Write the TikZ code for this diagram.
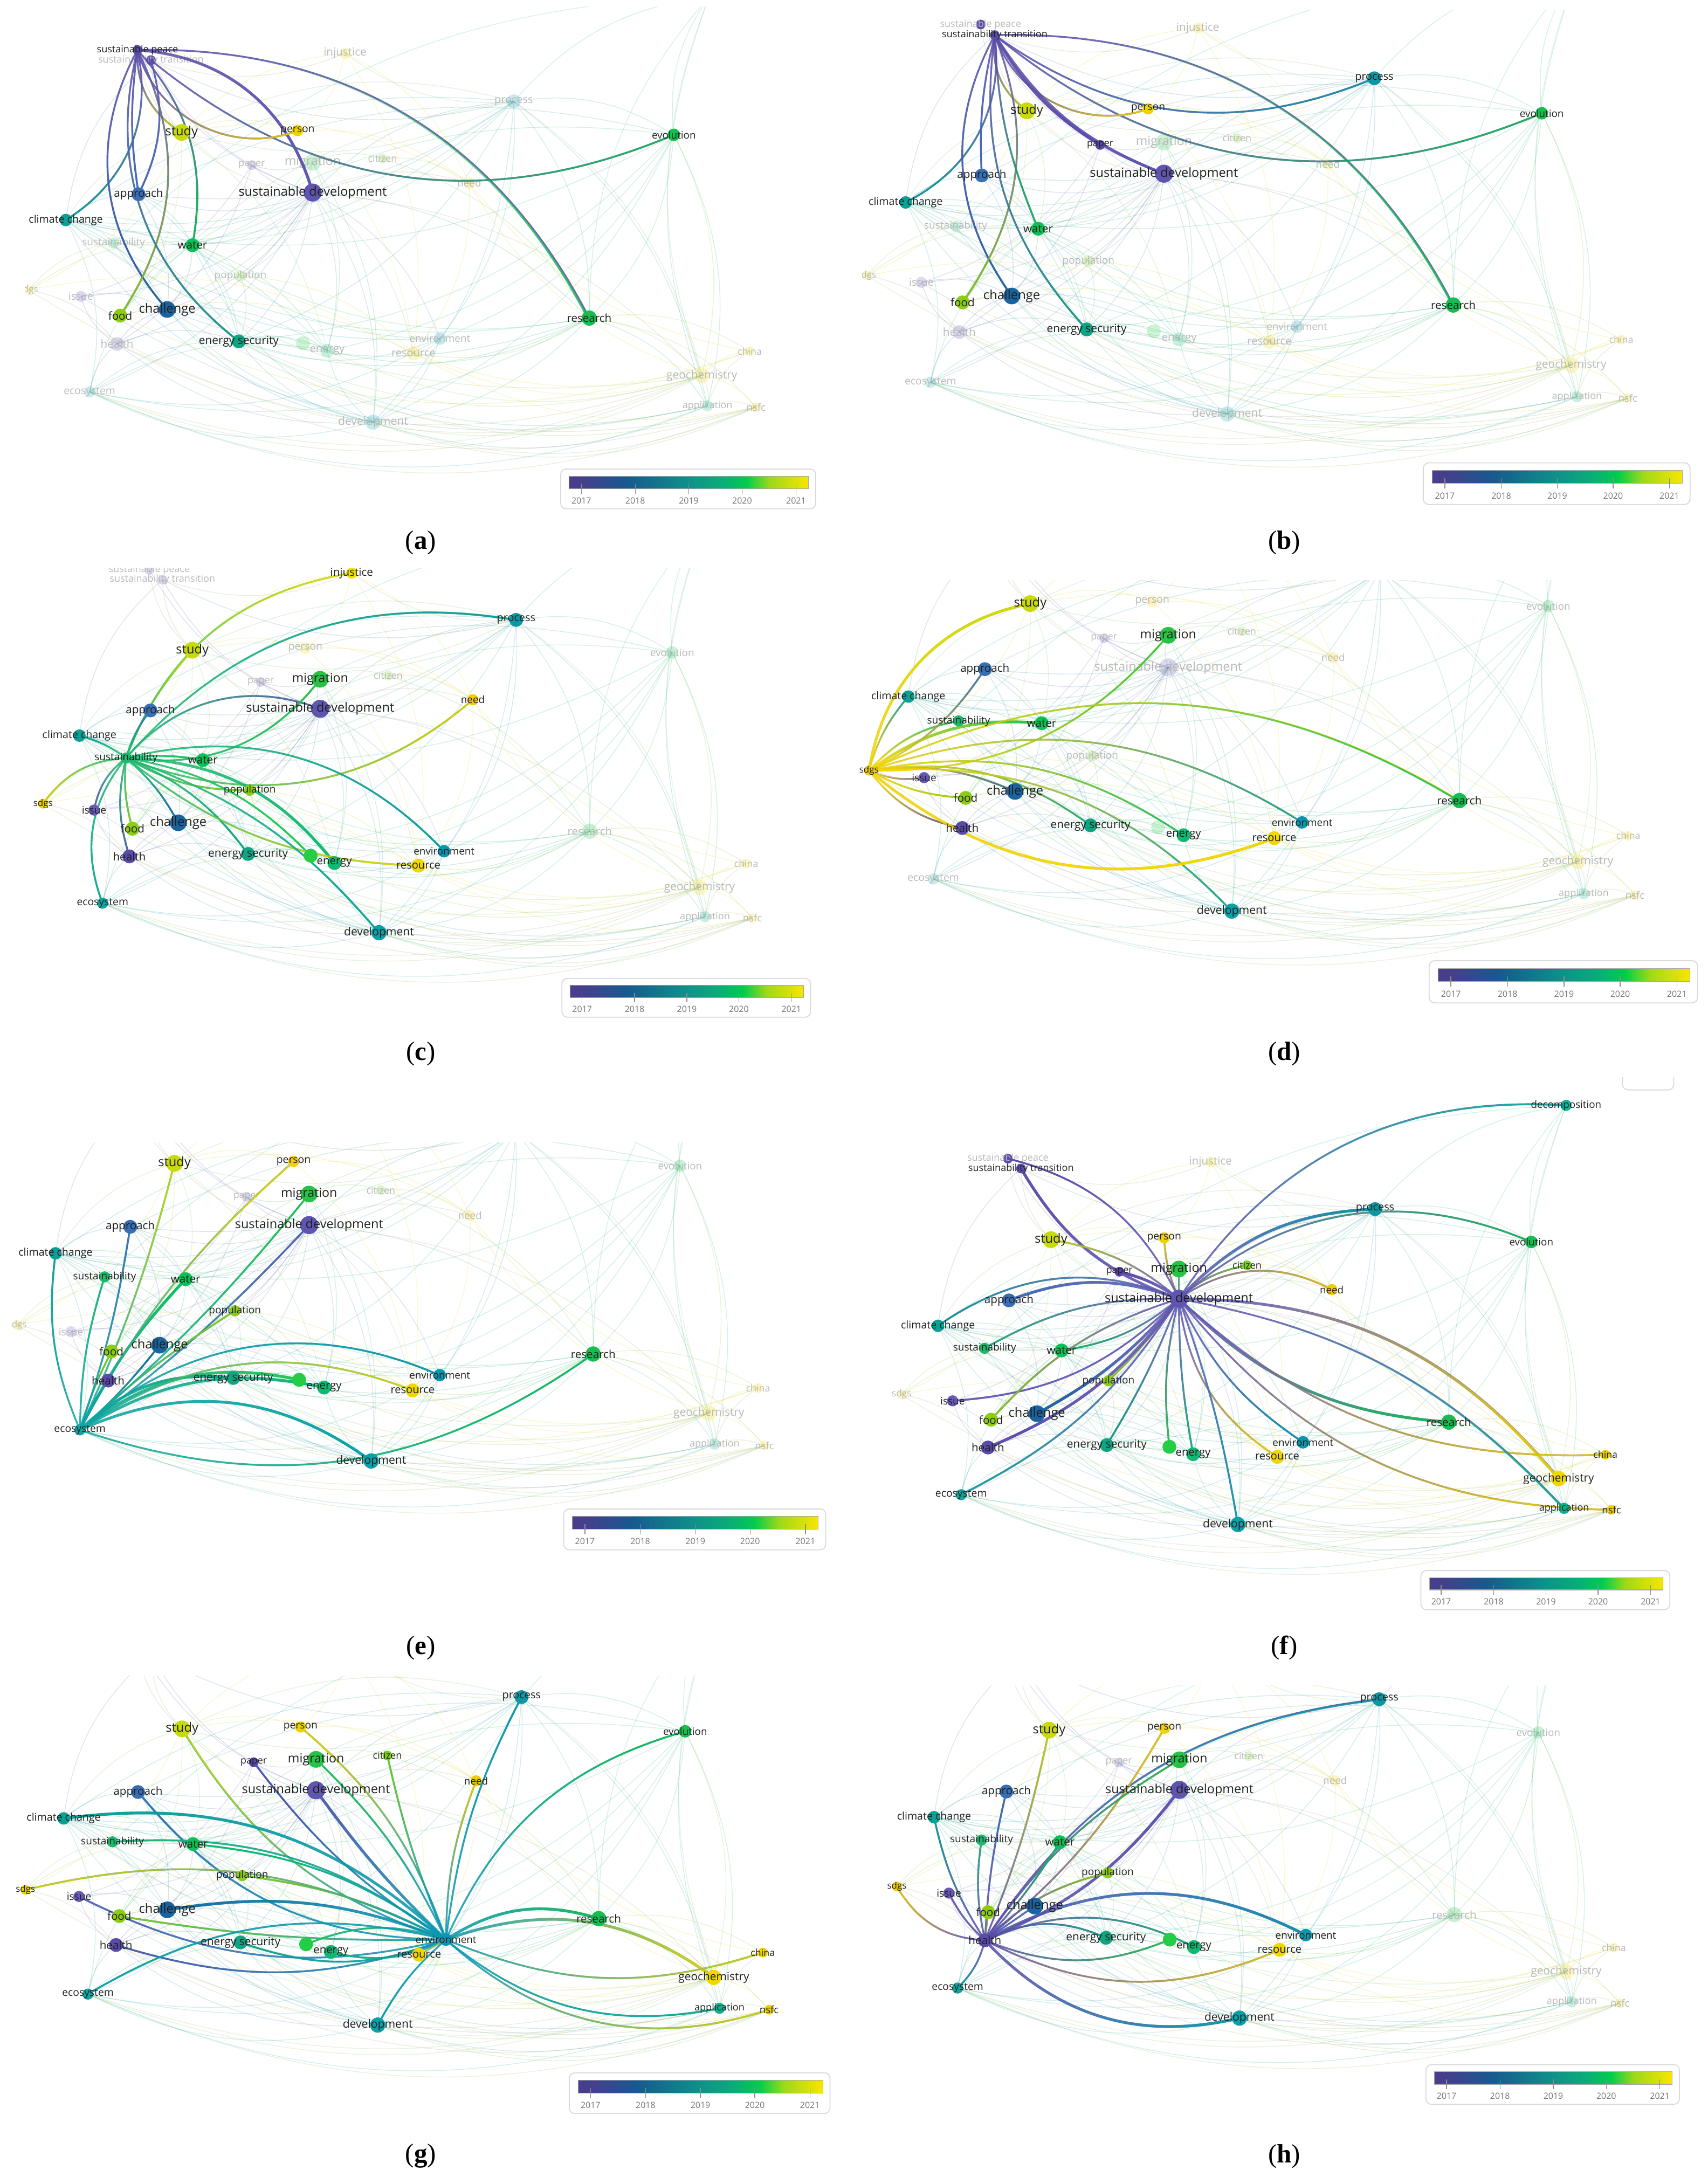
\documentclass[tikz,border=0pt]{standalone}
\usepackage{fontspec}
\usetikzlibrary{fadings}
\setmainfont{Liberation Serif}
\newfontfamily\vos{Open Sans}
\newif\ifmatch
\makeatletter
\newcommand\hlcheck[1]{\edef\hl@tmp{\noexpand\in@{,#1,}{,\hlist,}}\hl@tmp\ifin@\matchtrue\else\matchfalse\fi}
\newcommand\solidcheck[1]{\edef\hl@tmp{\noexpand\in@{,#1,}{,\solidlist,}}\hl@tmp\ifin@\matchtrue\else\matchfalse\fi}
\newcommand\hidecheck[1]{\edef\hl@tmp{\noexpand\in@{,#1,}{,\hidelist,}}\hl@tmp\ifin@\matchtrue\else\matchfalse\fi}
\makeatother

\definecolor{csp}{RGB}{88,76,168}
\definecolor{cst}{RGB}{90,78,170}
\definecolor{cinj}{RGB}{240,224,0}
\definecolor{cproc}{RGB}{14,150,165}
\definecolor{cevo}{RGB}{20,190,80}
\definecolor{cstudy}{RGB}{200,218,10}
\definecolor{cperson}{RGB}{240,210,0}
\definecolor{cpaper}{RGB}{88,70,168}
\definecolor{cmig}{RGB}{40,195,70}
\definecolor{ccit}{RGB}{120,205,30}
\definecolor{cappr}{RGB}{55,110,180}
\definecolor{csd}{RGB}{95,85,175}
\definecolor{cneed}{RGB}{240,205,0}
\definecolor{ccc}{RGB}{10,160,150}
\definecolor{csust}{RGB}{30,185,110}
\definecolor{cwater}{RGB}{10,195,85}
\definecolor{cpop}{RGB}{140,205,20}
\definecolor{csdgs}{RGB}{240,210,0}
\definecolor{cissue}{RGB}{105,90,185}
\definecolor{cfood}{RGB}{140,205,15}
\definecolor{cchal}{RGB}{25,100,160}
\definecolor{cesec}{RGB}{15,165,130}
\definecolor{chealth}{RGB}{90,75,170}
\definecolor{cgnode}{RGB}{35,205,70}
\definecolor{cenergy}{RGB}{15,185,115}
\definecolor{cenv}{RGB}{10,150,175}
\definecolor{cres}{RGB}{240,215,0}
\definecolor{cresearch}{RGB}{20,190,80}
\definecolor{ceco}{RGB}{15,165,160}
\definecolor{cdev}{RGB}{10,160,170}
\definecolor{cchina}{RGB}{240,210,0}
\definecolor{cgeo}{RGB}{240,215,0}
\definecolor{capp}{RGB}{15,175,140}
\definecolor{cnsfc}{RGB}{240,210,0}
\definecolor{cdec}{RGB}{15,180,160}

\pgfdeclarehorizontalshading{viri}{100bp}{rgb(0bp)=(0.28,0.24,0.55); rgb(25bp)=(0.28,0.24,0.55); rgb(28bp)=(0.27,0.25,0.55); rgb(37bp)=(0.09,0.35,0.56); rgb(50bp)=(0.06,0.57,0.54); rgb(57bp)=(0.04,0.68,0.47); rgb(62bp)=(0,0.80,0.30); rgb(67bp)=(0.62,0.85,0.10); rgb(75bp)=(0.98,0.90,0.0); rgb(100bp)=(0.98,0.90,0.0)}

\tikzset{
  bgedge/.style={line width=0.55pt, opacity=0.18},
  hledge/.style={line width=1.3pt, opacity=0.85, line cap=round},
  lw2/.style={line width=2pt},
  dotF/.style={circle, inner sep=0pt, opacity=0.22},
  dotS/.style={circle, inner sep=0pt},
  lblF/.style={inner sep=0pt, text=gray!55},
  lblH/.style={inner sep=0pt, text=black!88},
  panellbl/.style={font=\fontsize{19}{22}\selectfont, inner sep=0pt},
  ticklbl/.style={font=\vos\fontsize{6.2}{7}\selectfont, text=black!55, inner sep=0pt},
}

\def\nodelist{sp/sustainable peace/7pt/7, st/sustainability transition/7pt/7, inj/injustice/8pt/8, proc/process/10pt/7.7, evo/evolution/9pt/7.3, study/study/12pt/9.2, person/person/8pt/7.5, paper/paper/7pt/6.9, mig/migration/12pt/9, cit/citizen/7pt/7, appr/approach/10pt/8, sd/sustainable development/13pt/9.1, need/need/8pt/7.3, cc/climate change/9pt/7.6, sust/sustainability/8pt/7.4, water/water/10pt/8, pop/population/8pt/7.4, sdgs/sdgs/7pt/6.6, issue/issue/8pt/7.4, food/food/10pt/8, chal/challenge/12pt/9.2, esec/energy security/10pt/8.1, health/health/10pt/8, gnode/{}/10pt/8, energy/energy/10pt/7.9, env/environment/9pt/7.3, res/resource/10pt/7.8, research/research/11pt/8, eco/ecosystem/8pt/7.5, dev/development/11pt/8.2, china/china/7pt/6.9, geo/geochemistry/11pt/8.1, app/application/8pt/7, nsfc/nsfc/7pt/7.2, dec/decomposition/8pt/7.3}

\newcommand\basecoords{%
\coordinate (sp) at (99,36);
\coordinate (st) at (108.7,43.3);
\coordinate (inj) at (248.5,38.4);
\coordinate (proc) at (370,73);
\coordinate (evo) at (485.3,97.1);
\coordinate (study) at (130.8,95.4);
\coordinate (person) at (214.3,94.1);
\coordinate (paper) at (181.3,118.9);
\coordinate (mig) at (225.2,116.9);
\coordinate (cit) at (275.5,114.2);
\coordinate (appr) at (99.8,139.9);
\coordinate (sd) at (225.2,138.7);
\coordinate (need) at (338,132);
\coordinate (cc) at (47.4,158.5);
\coordinate (sust) at (81.8,175);
\coordinate (water) at (138.6,176.6);
\coordinate (pop) at (173.2,198.8);
\coordinate (sdgs) at (20.5,208.8);
\coordinate (issue) at (58.2,213.5);
\coordinate (food) at (86.6,227.3);
\coordinate (chal) at (120.4,222.9);
\coordinate (esec) at (172,245.9);
\coordinate (health) at (84.3,247.7);
\coordinate (gnode) at (218.2,247.2);
\coordinate (energy) at (235.7,252.6);
\coordinate (env) at (316.8,243.9);
\coordinate (res) at (297.8,254.6);
\coordinate (research) at (424.4,229.1);
\coordinate (eco) at (64.5,282.3);
\coordinate (dev) at (268.7,304.1);
\coordinate (china) at (540,253);
\coordinate (geo) at (505.5,270.5);
\coordinate (app) at (509.5,292.3);
\coordinate (nsfc) at (544.5,293.3);
\coordinate (dec) at (511,-3);
}

\newcommand\bgedges{%
\foreach \a/\b in {sd/appr, sd/study, sd/paper, sd/pop, sd/chal, sd/food, sd/health, sd/issue, sd/esec, sd/energy, sd/dev, sd/env, sd/res, sd/research, sd/geo, sd/proc, sd/need, sd/cc, sd/sust, sd/water, sd/st, sd/sp, sd/eco, sd/mig,
proc/research, proc/evo, proc/dev, proc/env, proc/cc, proc/appr, proc/geo, proc/app, proc/water, proc/esec, proc/dec, proc/study, proc/st, proc/inj, proc/sust,
evo/research, evo/geo, evo/app, evo/dev, evo/esec, evo/dec, evo/cc, evo/energy, evo/env,
research/geo, research/china, research/app, research/nsfc, research/dev, research/energy, research/esec, research/water, research/cc, research/res, research/dec, research/eco, research/chal,
geo/china, geo/nsfc, geo/app, geo/res, geo/energy, geo/dev, geo/esec, geo/need, geo/eco, geo/dec,
app/nsfc, app/china, app/dev, app/dec, app/esec, nsfc/dev, nsfc/res, china/res, china/need,
dev/eco, dev/esec, dev/energy, dev/chal, dev/water, dev/health, dev/cc, dev/sust,
env/esec, env/water, env/res, env/dev, env/cc, env/eco,
cc/water, cc/eco, cc/sust, cc/study, cc/esec, cc/energy, cc/st, cc/appr, cc/chal,
study/person, study/inj, study/water, study/need, study/energy, study/sp, study/st, study/sdgs, study/food,
sdgs/water, sdgs/res, sdgs/health, sdgs/sust, eco/water, eco/esec, eco/energy, eco/health,
inj/person, inj/need, inj/res, inj/st, need/res, person/need, person/res, mig/cit, mig/energy, mig/dev, mig/water, mig/paper, cit/need, cit/research,
water/esec, water/energy, water/pop, water/chal, chal/esec, chal/energy, esec/energy, esec/gnode, gnode/energy, food/water, food/res, health/issue, issue/chal, health/chal, health/esec, appr/chal, appr/water, appr/esec, paper/issue, paper/health, pop/esec, pop/res,
study/proc, appr/evo, cc/proc, sust/dec, water/evo, food/proc}
{\draw[bgedge, draw=c\a!50!c\b] (\a) to[bend left=20] (\b);}
\foreach \a/\b in {eco/nsfc, eco/app, health/geo, sdgs/app, food/china, chal/nsfc, cc/geo, issue/app, esec/nsfc, dev/nsfc, eco/geo, health/nsfc}
{\draw[bgedge, draw=c\a!50!c\b] (\a) to[bend right=22] (\b);}}

\newcommand\fadednodes{%
\foreach \n/\t/\d/\s in \nodelist {%
  \hlcheck{\n}%
  \ifmatch\else
    \hidecheck{\n}%
    \ifmatch\else
      \solidcheck{\n}%
      \ifmatch
        \node[dotS, fill=c\n, minimum size=\d] (\n-d) at (\n) {};
      \else
        \node[dotF, fill=c\n, minimum size=\d] (\n-d) at (\n) {};
      \fi
      \node[lblF, font={\vos\fontsize{\s}{\s}\selectfont}] (\n-l) at (\n) {\t};
    \fi
  \fi}}

\newcommand\hlnodes{%
\foreach \n/\t/\d/\s in \nodelist {%
  \hlcheck{\n}%
  \ifmatch \node[dotS, fill=c\n, minimum size=\d] (\n-h) at (\n) {}; \fi}
\foreach \n/\t/\d/\s in \nodelist {%
  \hlcheck{\n}%
  \ifmatch \node[lblH, font={\vos\fontsize{\s}{\s}\selectfont}] (\n-t) at (\n) {\t}; \fi}}

\newcommand\HE[4][]{%
\if\relax\detokenize{#4}\relax
  \draw[hledge, draw=c#2!50!c#3, #1] (#2) -- (#3);
\else
  \pgfmathanglebetweenpoints{\pgfpointanchor{#2}{center}}{\pgfpointanchor{#3}{center}}%
  \edef\heang{\pgfmathresult}%
  \draw[hledge, draw=c#2, #1] (#2) to[#4] (#3);
  \draw[hledge, draw=c#3, #1, path fading=west, fading angle=\heang] (#2) to[#4] (#3);
\fi}

\newcommand\cbar{%
\filldraw[fill=white, draw=black!15, line width=0.7pt, rounded corners=4pt] (403.8,337.8) rectangle (587.5,366.5);
\shade[shading=viri] (410,343) rectangle (582.4,352);
\draw[black!35, line width=0.4pt] (410,343) rectangle (582.4,352);
\foreach \x/\yr in {418.7/2017, 457.5/2018, 496.1/2019, 534.5/2020, 573.3/2021}{%
  \draw[black!45, line width=0.5pt] (\x,348.5) -- (\x,355.5);
  \node[ticklbl] (yr\yr) at (\x,360.5) {\yr};}}

\newcommand\panel[5]{%
\begin{scope}
\clip #1;
\begin{scope}[shift={(#2,#3)}, xscale=#4, yscale=#5]
\basecoords \bgedges \fadednodes \hledges \hlnodes
\end{scope}
\end{scope}
\begin{scope}[shift={(#2,#3)}, xscale=#4, yscale=#5]\cbar\end{scope}}

\begin{document}
\begin{tikzpicture}[x=1pt,y=-1pt]
\useasboundingbox (0,0) rectangle (1230,1568);
\fill[white] (0,0) rectangle (1230,1568);
\def\hidelist{dec}

% (a)
\def\hlist{sp,sd,research,evo,person,study,appr,cc,chal,food,water,esec}
\def\solidlist{st}
\def\hledges{%
\HE[lw2]{sp}{sd}{bend left=35}
\HE{sp}{research}{bend left=32}
\HE{st}{evo}{bend right=31}
\HE{sp}{person}{bend right=48}
\HE{sp}{study}{bend right=30}
\HE{sp}{appr}{bend right=8}
\HE{st}{appr}{bend left=21}
\HE{sp}{cc}{bend left=35}
\HE{sp}{chal}{bend right=35}
\HE{sp}{food}{bend left=30}
\HE{sp}{water}{bend left=26}
\HE{sp}{esec}{bend right=33}}
\panel{(18,5) rectangle (600,372)}{0}{0}{1}{1}

% (b)
\def\hlist{st,research,proc,evo,person,study,paper,sd,appr,cc,chal,food,water,esec}
\def\solidlist{sp}
\def\hledges{%
\HE{st}{research}{bend left=32}
\HE{st}{proc}{bend right=29}
\HE{st}{evo}{bend right=31}
\HE{st}{person}{bend right=45}
\HE{st}{study}{bend right=30}
\HE[lw2]{st}{paper}{bend right=14}
\HE[lw2]{st}{sd}{bend right=18}
\HE{st}{appr}{bend right=8}
\HE{st}{cc}{bend left=35}
\HE{st}{chal}{bend right=32}
\HE{st}{food}{bend left=28}
\HE{st}{water}{bend right=10}
\HE{st}{esec}{bend right=25}}
\panel{(621,7) rectangle (1228,368)}{602.7}{-20}{1.046}{1.046}

% (c)
\def\hlist{sust,inj,study,proc,appr,sd,mig,cc,water,need,pop,sdgs,issue,food,chal,health,esec,gnode,energy,res,env,dev,eco}
\def\solidlist{}
\def\hledges{%
\HE{sust}{inj}{bend left=30}
\HE{sust}{study}{bend left=10}
\HE{sust}{proc}{bend left=29}
\HE{sust}{appr}{bend left=10}
\HE{sust}{sd}{bend left=35}
\HE{sust}{mig}{bend right=30}
\HE{sust}{cc}{bend right=10}
\HE{sust}{water}{bend left=8}
\HE{sust}{need}{bend right=31}
\HE{sust}{pop}{bend right=15}
\HE{sust}{sdgs}{bend right=25}
\HE{sust}{issue}{bend right=20}
\HE{sust}{food}{bend right=10}
\HE{sust}{chal}{bend left=10}
\HE{sust}{health}{bend right=15}
\HE{sust}{esec}{bend left=15}
\HE{sust}{gnode}{bend left=18}
\HE[lw2]{sust}{energy}{bend left=25}
\HE{sust}{res}{bend right=18}
\HE{sust}{env}{bend left=30}
\HE{sust}{dev}{bend left=15}
\HE{sust}{eco}{bend right=30}}
\panel{(5,409) rectangle (600,740)}{11}{375.3}{0.975}{0.975}

% (d)
\def\hlist{sdgs,study,mig,appr,cc,sust,water,issue,chal,food,health,esec,energy,env,res,research,dev}
\def\solidlist{}
\def\hledges{%
\HE[lw2]{sdgs}{study}{bend left=35}
\HE{sdgs}{cc}{bend left=12}
\HE{sdgs}{sust}{bend left=18}
\HE[lw2]{sdgs}{water}{bend left=20}
\HE{sdgs}{mig}{bend right=25}
\HE{sdgs}{research}{bend left=28}
\HE{sdgs}{env}{bend left=25}
\HE{sdgs}{appr}{bend right=15}
\HE{sdgs}{issue}{bend right=15}
\HE{sdgs}{chal}{bend left=15}
\HE{sdgs}{food}{bend right=12}
\HE{sdgs}{health}{bend right=20}
\HE{sdgs}{esec}{bend left=22}
\HE{sdgs}{energy}{bend left=22}
\HE{sdgs}{dev}{bend left=25}
\HE[lw2]{sdgs}{res}{bend right=30}}
\panel{(612,418) rectangle (1228,730)}{604.3}{333.5}{1.0525}{1.061}

% (e)
\def\hlist{eco,study,person,mig,appr,sd,cc,sust,water,pop,food,chal,health,esec,gnode,energy,env,res,research,dev}
\def\solidlist{}
\def\hledges{%
\HE{eco}{cc}{bend left=15}
\HE{eco}{sust}{bend left=8}
\HE{eco}{food}{bend left=5}
\HE{eco}{health}{bend left=5}
\HE[lw2]{eco}{water}{bend left=8}
\HE{eco}{study}{bend right=5}
\HE{eco}{person}{bend left=10}
\HE{eco}{appr}{bend right=5}
\HE{eco}{chal}{bend right=5}
\HE{eco}{mig}{bend right=5}
\HE{eco}{sd}{bend right=5}
\HE{eco}{pop}{bend left=5}
\HE[lw2]{eco}{esec}{bend left=25}
\HE[lw2]{eco}{gnode}{bend left=25}
\HE[lw2]{eco}{energy}{bend left=22}
\HE{eco}{res}{bend left=28}
\HE{eco}{env}{bend left=32}
\HE[lw2]{eco}{dev}{bend left=30}
\HE{eco}{research}{bend right=27}}
\panel{(9,823) rectangle (600,1122)}{-8.7}{739.9}{1.027}{1.027}

% (f)
\def\hidelist{}
\def\hlist{sd,st,dec,proc,evo,study,person,paper,mig,cit,need,appr,cc,sust,water,pop,issue,food,chal,health,esec,gnode,energy,env,res,research,dev,eco,china,geo,app,nsfc}
\def\solidlist{sp}
\def\hledges{%
\HE[lw2]{sd}{st}{bend left=20}
\HE{sd}{sp}{bend right=25}
\HE{sd}{dec}{bend left=30}
\HE[lw2]{sd}{proc}{bend left=22}
\HE{sd}{evo}{bend left=32}
\HE{sd}{person}{bend left=10}
\HE{sd}{mig}{}
\HE{sd}{cit}{bend left=15}
\HE{sd}{need}{bend left=31}
\HE[lw2]{sd}{paper}{bend right=10}
\HE{sd}{study}{bend right=15}
\HE[lw2]{sd}{appr}{bend right=20}
\HE{sd}{cc}{bend right=28}
\HE{sd}{sust}{bend right=15}
\HE{sd}{water}{bend left=15}
\HE{sd}{pop}{bend left=5}
\HE{sd}{issue}{bend left=20}
\HE{sd}{food}{bend right=15}
\HE[lw2]{sd}{chal}{bend left=10}
\HE[lw2]{sd}{health}{bend left=15}
\HE{sd}{esec}{bend left=5}
\HE{sd}{gnode}{bend right=10}
\HE{sd}{energy}{bend right=5}
\HE{sd}{env}{bend right=15}
\HE{sd}{res}{bend right=25}
\HE[lw2]{sd}{research}{bend right=20}
\HE{sd}{dev}{bend left=5}
\HE{sd}{eco}{bend left=15}
\HE[lw2]{sd}{geo}{bend left=25}
\HE{sd}{china}{bend right=22}
\HE{sd}{app}{bend left=18}
\HE{sd}{nsfc}{bend right=25}}
\panel{(625,784) rectangle (1228,1165)}{629.3}{799.1}{0.976}{0.983}
\def\hidelist{dec}
\begin{scope}
\clip (1160,776) rectangle (1215,790);
\draw[fill=white, draw=black!15, line width=0.7pt, rounded corners=4pt] (1168.6,760) rectangle (1205.5,785);
\end{scope}

% (g)
\def\hlist{env,proc,evo,study,person,paper,mig,cit,need,sd,appr,cc,sust,water,sdgs,pop,issue,food,chal,health,esec,gnode,energy,res,research,dev,eco,china,geo,app,nsfc}
\def\solidlist{}
\def\hledges{%
\HE{env}{proc}{bend left=10}
\HE{env}{evo}{bend left=25}
\HE{env}{need}{bend left=10}
\HE{env}{cit}{bend left=5}
\HE{env}{person}{bend right=15}
\HE{env}{mig}{bend right=10}
\HE{env}{paper}{bend left=10}
\HE[lw2]{env}{sd}{bend left=5}
\HE{env}{study}{bend left=20}
\HE{env}{appr}{bend left=25}
\HE[lw2]{env}{cc}{bend right=25}
\HE{env}{sust}{bend right=20}
\HE{env}{water}{bend right=15}
\HE{env}{sdgs}{bend right=20}
\HE{env}{pop}{bend right=10}
\HE{env}{issue}{bend left=20}
\HE[lw2]{env}{chal}{bend right=15}
\HE{env}{food}{bend left=5}
\HE{env}{health}{bend left=18}
\HE{env}{esec}{bend left=20}
\HE{env}{gnode}{bend right=20}
\HE{env}{energy}{bend left=20}
\HE{env}{res}{}
\HE{env}{dev}{bend right=10}
\HE{env}{eco}{bend right=22}
\HE[lw2]{env}{research}{bend left=25}
\HE[lw2]{env}{geo}{bend left=28}
\HE{env}{china}{bend right=20}
\HE{env}{app}{bend right=25}
\HE{env}{nsfc}{bend right=30}}
\panel{(5,1207) rectangle (600,1530)}{-2.6}{1147.7}{1.022}{1.022}

% (h)
\def\hlist{health,proc,study,person,mig,sd,appr,cc,sust,water,pop,sdgs,issue,food,chal,esec,gnode,energy,env,res,dev,eco}
\def\solidlist{}
\def\hledges{%
\HE{health}{proc}{bend left=25}
\HE{health}{person}{bend right=10}
\HE{health}{mig}{bend left=12}
\HE[lw2]{health}{sd}{bend right=15}
\HE{health}{appr}{bend left=5}
\HE{health}{study}{bend right=5}
\HE{health}{cc}{bend left=10}
\HE{health}{sust}{bend left=10}
\HE{health}{water}{bend right=5}
\HE{health}{pop}{bend left=15}
\HE{health}{sdgs}{bend left=28}
\HE{health}{issue}{bend left=10}
\HE{health}{food}{}
\HE{health}{chal}{}
\HE{health}{esec}{bend left=25}
\HE{health}{gnode}{bend right=22}
\HE{health}{energy}{bend left=25}
\HE[lw2]{health}{env}{bend left=28}
\HE{health}{res}{bend right=25}
\HE[lw2]{health}{dev}{bend right=30}
\HE{health}{eco}{bend left=15}}
\panel{(628,1214) rectangle (1228,1525)}{625.6}{1151.3}{0.994}{0.994}

% panel labels
\node[panellbl] (la) at (303,391) {(\textbf{a})};
\node[panellbl] (lb) at (925,391) {(\textbf{b})};
\node[panellbl] (lc) at (303,759) {(\textbf{c})};
\node[panellbl] (ld) at (925,759) {(\textbf{d})};
\node[panellbl] (le) at (303,1187) {(\textbf{e})};
\node[panellbl] (lf) at (925,1187) {(\textbf{f})};
\node[panellbl] (lg) at (303,1553) {(\textbf{g})};
\node[panellbl] (lh) at (925,1553) {(\textbf{h})};
\end{tikzpicture}
\end{document}
